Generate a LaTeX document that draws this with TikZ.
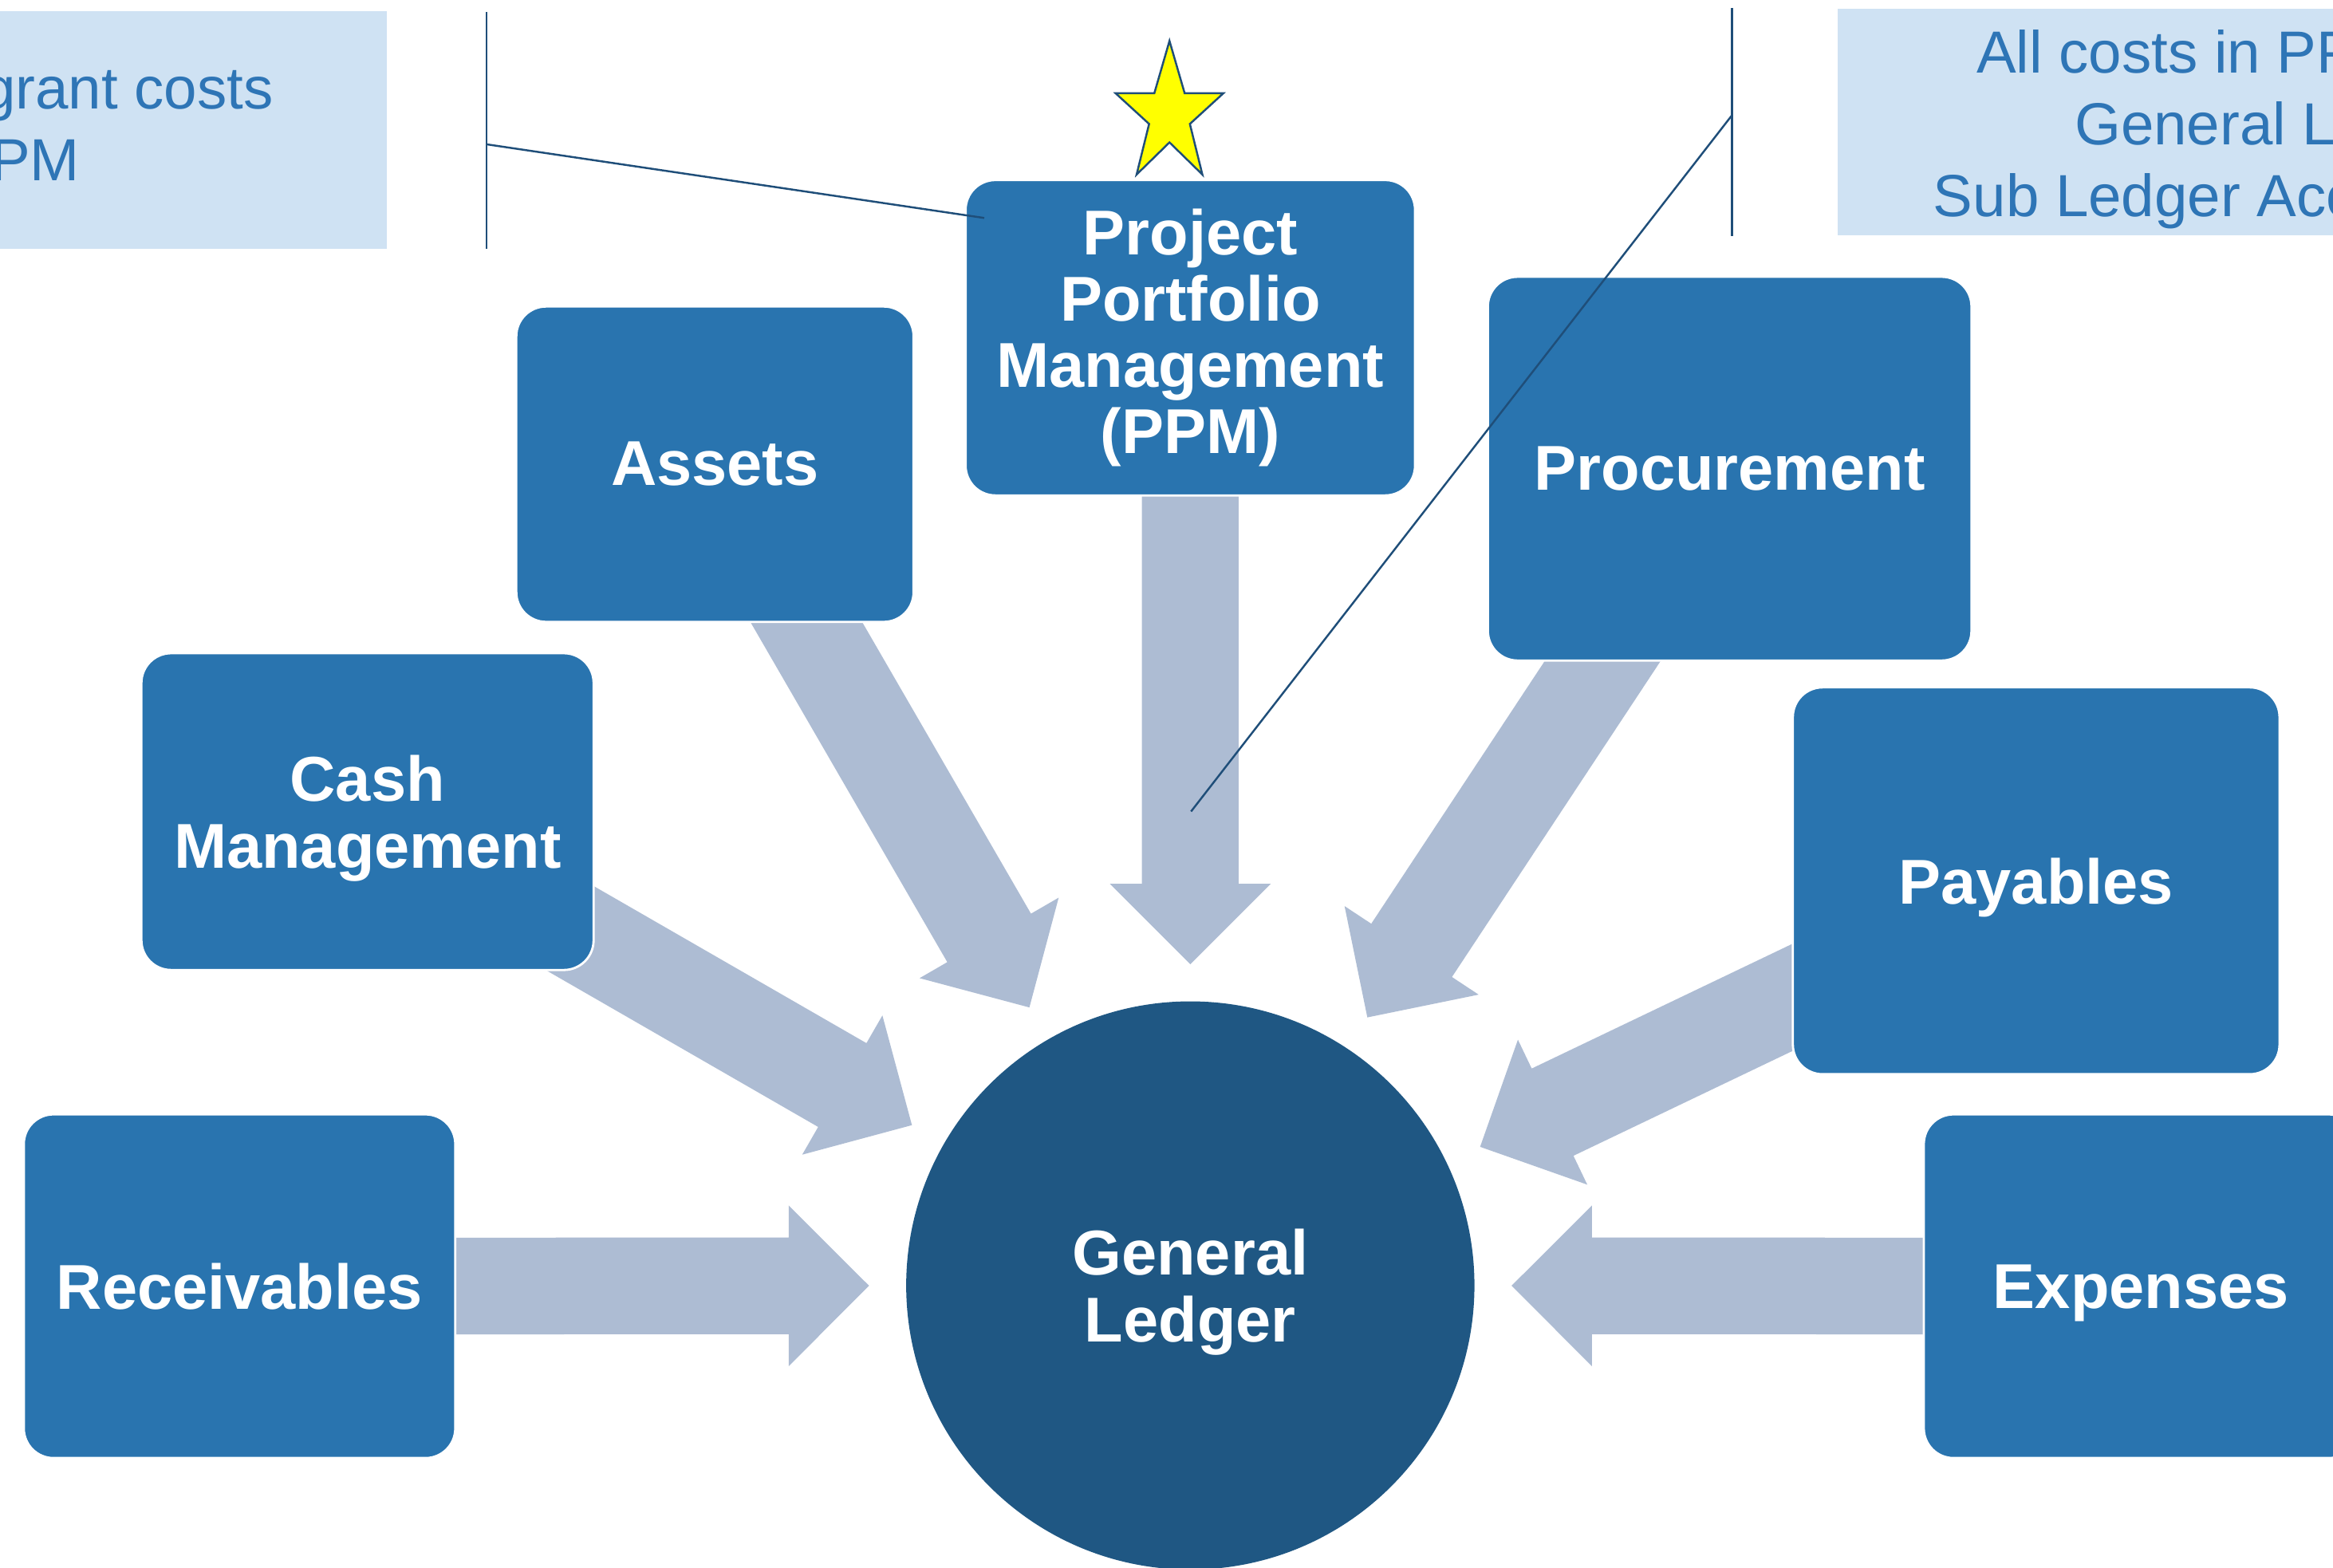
\documentclass[tikz,border=0pt]{standalone}
\usepackage{fontspec}
\setmainfont{Liberation Sans}
\usetikzlibrary{calc,backgrounds}
\definecolor{boxblue}{RGB}{41,116,175}
\definecolor{glblue}{RGB}{31,87,131}
\definecolor{arrowgray}{RGB}{173,188,211}
\definecolor{callfill}{RGB}{207,226,243}
\definecolor{calltext}{RGB}{46,117,182}
\definecolor{callline}{RGB}{31,78,121}
\definecolor{staryellow}{RGB}{255,255,0}
% block arrow from the centre of node #1 towards node #2 (tip stops short of #2)
\newcommand{\blockarrow}[2]{%
  \coordinate (tp) at ($(#2)!114.6pt!(#1)$);
  \coordinate (hb) at ($(tp)!28.66pt!(#1)$);
  \fill[arrowgray] ($(#1)!17.25pt!90:(tp)$) -- ($(hb)!17.25pt!90:(tp)$)
    -- ($(hb)!28.66pt!90:(tp)$) -- (tp) -- ($(hb)!28.66pt!-90:(tp)$)
    -- ($(hb)!17.25pt!-90:(tp)$) -- ($(#1)!17.25pt!-90:(tp)$) -- cycle;
}
\begin{document}
\begin{tikzpicture}[x=0.18654mm, y=-0.18654mm,
  box/.style={draw=white, line width=0.8pt, fill=boxblue, rounded corners=10.6pt,
    text=white, font=\fontsize{22.6}{23.7}\selectfont\bfseries, align=center, inner sep=0pt},
  nodepth/.style={text depth=0pt},
  glstyle/.style={circle, fill=glblue, text=white, font=\fontsize{22.6}{23.7}\selectfont\bfseries,
    align=center, minimum size=202.7pt, inner sep=0pt},
  callbox/.style={fill=callfill, draw=none, inner sep=0pt},
  calltxt/.style={text=calltext, font=\fontsize{21.2}{25.4}\selectfont, inner sep=0pt},
  callline/.style={draw=callline, line width=0.7pt},
  starstyle/.style={fill=staryellow, draw=callline, line width=0.7pt, line join=miter}
]
\path[use as bounding box] (0,0) rectangle (1568,1053.4);
\clip (0,0) rectangle (1568,1053.4);

% callout boxes
\node[callbox, minimum width=191.1pt, minimum height=84.65pt] (lcall) at (80,87.25) {};
\node[callbox, minimum width=246.8pt, minimum height=80.7pt] (rcall) at (1467.5,82) {};
\node[calltxt, anchor=base east] (l1) at (184,73.3) {grant costs};
\node[calltxt, anchor=base east] (l2) at (54,121.5) {PM};
\node[calltxt, anchor=base west] (r1) at (1328,49.2) {All costs in PP};
\node[calltxt, anchor=base west] (r2) at (1394,97.4) {General L};
\node[calltxt, anchor=base west] (r3) at (1299,145.6) {Sub Ledger Acc};

% boxes
\node[box, minimum width=160.3pt, minimum height=112.5pt] (ppm) at (800,227)
  {Project\\Portfolio\\Management\\(PPM)};
\node[box, minimum width=141.7pt, minimum height=112.5pt] (assets) at (480.5,312) {Assets};
\node[box, nodepth, minimum width=161.3pt, minimum height=113pt] (cash) at (247,545.5) {Cash\\Management};
\node[box, minimum width=153.9pt, minimum height=122.6pt] (rec) at (161,864.5) {Receivables};
\node[box, minimum width=172.5pt, minimum height=136.9pt] (proc) at (1162.5,315) {Procurement};
\node[box, nodepth, minimum width=173.6pt, minimum height=138pt] (pay) at (1368.5,592) {Payables};
\node[box, nodepth, minimum width=155pt, minimum height=122.6pt] (exp) at (1439,864.5) {Expenses};
\node[glstyle, nodepth] (gl) at (800,864) {General\\Ledger};

% block arrows behind the boxes
\begin{pgfonlayer}{background}
  \blockarrow{ppm}{gl}
  \blockarrow{assets}{gl}
  \blockarrow{cash}{gl}
  \blockarrow{rec}{gl}
  \blockarrow{proc}{gl}
  \blockarrow{pay}{gl}
  \blockarrow{exp}{gl}
\end{pgfonlayer}

% star
\draw[starstyle] (786,27.5) -- (796.2,62.7) -- (822.2,62.7) -- (799.7,83.3) -- (808.1,117.3)
  -- (786,95.7) -- (763.9,117.3) -- (772.3,83.3) -- (749.8,62.7) -- (775.8,62.7) -- cycle;

% callout lines
\coordinate (lbarT) at (327,8);
\coordinate (lbarB) at (327,167);
\coordinate (lbarM) at (327,97);
\coordinate (lend) at (661.5,146.5);
\coordinate (rbarT) at (1164,5.3);
\coordinate (rbarB) at (1164,158.5);
\coordinate (rbarM) at (1164,77.5);
\coordinate (rend) at (800.5,545.4);
\draw[callline] (lbarT) -- (lbarB);
\draw[callline] (lbarM) -- (lend);
\draw[callline] (rbarT) -- (rbarB);
\draw[callline] (rbarM) -- (rend);
\end{tikzpicture}
\end{document}
